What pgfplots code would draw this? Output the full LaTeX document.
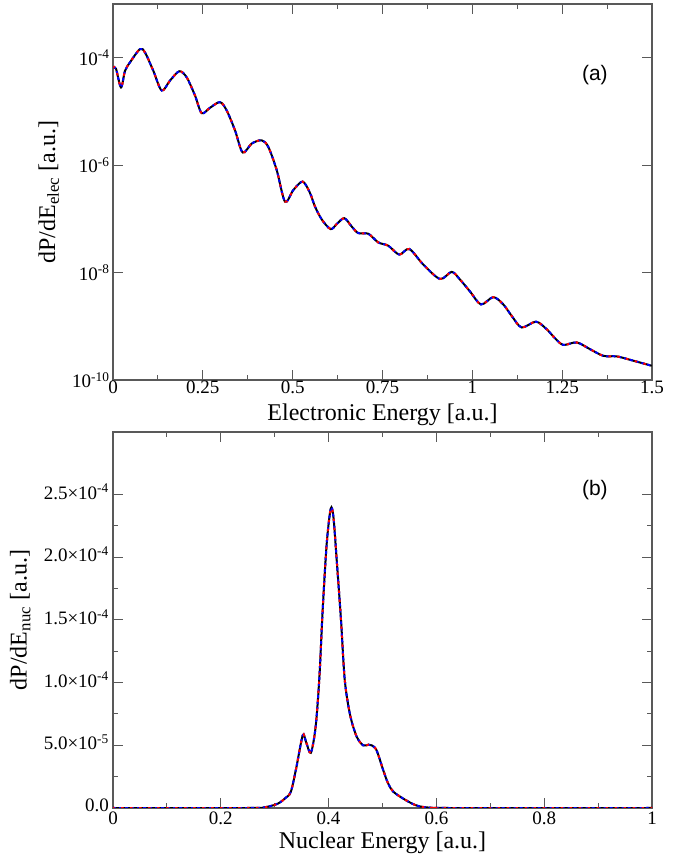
\documentclass[border=0pt]{standalone}
\usepackage{fontspec}
\setmainfont{Liberation Serif}
\newfontfamily\helv{Liberation Sans}
\usepackage{pgfplots}
\usepackage{pgfplotstable}
\pgfplotsset{compat=1.18}

\pgfplotstableread{
x y
0.0008 6.6e-5
0.0083 6.25e-5
0.0223 2.8e-5
0.0334 5.7e-5
0.0473 8.2e-5
0.0751 1.45e-4
0.0891 1.25e-4
0.1122 5.7e-5
0.1355 2.45e-5
0.1586 3.75e-5
0.1845 5.6e-5
0.2051 4.3e-5
0.2282 1.98e-5
0.2468 9.3e-6
0.2699 1.17e-5
0.2978 1.49e-5
0.3164 1.04e-5
0.3395 4.45e-6
0.3609 1.72e-6
0.3860 2.52e-6
0.4138 2.9e-6
0.4322 2.18e-6
0.4556 8.1e-7
0.4787 2.09e-7
0.5018 3.44e-7
0.5279 4.94e-7
0.5482 3.03e-7
0.5622 1.69e-7
0.5816 9.6e-8
0.6058 6.44e-8
0.6234 8.1e-8
0.6437 1.03e-7
0.6643 7.2e-8
0.6826 5.43e-8
0.7105 5.28e-8
0.7383 3.64e-8
0.7661 3.16e-8
0.7967 2.16e-8
0.8246 2.75e-8
0.8635 1.41e-8
0.9100 7.6e-9
0.9426 1.03e-8
0.9657 7.4e-9
0.9935 4.45e-9
1.0241 2.55e-9
1.0583 3.49e-9
1.0862 2.55e-9
1.1104 1.53e-9
1.1374 9.5e-10
1.1772 1.22e-9
1.2069 8.8e-10
1.2300 6.0e-10
1.2532 4.5e-10
1.2905 5.0e-10
1.3275 3.75e-10
1.3645 2.82e-10
1.4018 2.75e-10
1.4388 2.38e-10
1.4992 1.84e-10
}\elec

\pgfplotstableread{
x y
0.000 0
0.250 0
0.280 0.5e-6
0.300 2.5e-6
0.310 4.5e-6
0.320 8e-6
0.330 1.3e-5
0.340 3.2e-5
0.352 5.8e-5
0.358 5.3e-5
0.367 4.4e-5
0.376 6.5e-5
0.383 1.05e-4
0.389 1.58e-4
0.3965 2.11e-4
0.404 2.39e-4
0.409 2.32e-4
0.415 1.98e-4
0.423 1.50e-4
0.430 1.02e-4
0.440 7.4e-5
0.452 5.7e-5
0.464 5.0e-5
0.474 5.05e-5
0.480 5.0e-5
0.489 4.6e-5
0.5015 3.0e-5
0.510 2.0e-5
0.520 1.3e-5
0.545 5.8e-6
0.566 1.6e-6
0.590 2e-7
0.620 0
1.000 0
}\nuc

\pgfplotsset{
  myax/.style={
    scale only axis, width=539pt, height=376pt,
    axis line style={draw=black!65, line width=1.3pt},
    every tick/.style={draw=black!65, line width=1pt},
    tick align=inside,
    major tick length=10pt, minor tick length=5pt,
    tick label style={font=\fontsize{19}{21}\selectfont},
    xticklabel style={inner sep=1pt},
    every axis x label/.style={at={(axis description cs:0.5,-0.092)}, anchor=center, font=\fontsize{24}{26}\selectfont},
  },
  cblack/.style={black, line width=2pt, smooth, tension=0.5},
  cblue/.style={blue, line width=2pt, smooth, tension=0.5, dash pattern=on 3pt off 3pt},
  cred/.style={red, line width=2pt, smooth, tension=0.5, dash pattern=on 2.5pt off 6.5pt, dash phase=1pt},
}

\begin{document}
\begin{tikzpicture}
\path[use as bounding box] (0,0) rectangle (685pt,858pt);

\begin{axis}[myax,
  at={(113pt,478pt)}, anchor=south west,
  xmin=0, xmax=1.5, ymode=log, ymin=1e-10, ymax=1e-3,
  xtick={0,0.25,0.5,0.75,1,1.25,1.5},
  xticklabels={0,0.25,0.5,0.75,1,1.25,1.5},
  minor x tick num=1,
  ytick={1e-10,1e-8,1e-6,1e-4},
  yticklabels={10\textsuperscript{-10},10\textsuperscript{-8},10\textsuperscript{-6},10\textsuperscript{-4}},
  yminorticks=false,
  xlabel={Electronic Energy [a.u.]},
  ylabel={dP/dE\textsubscript{elec} [a.u.]},
  every axis y label/.style={at={(axis description cs:-0.119,0.5)}, rotate=90, anchor=center, font=\fontsize{24}{26}\selectfont},
]
\addplot[cblack] table[x=x,y=y] {\elec};
\addplot[cblue] table[x=x,y=y] {\elec};
\addplot[cred] table[x=x,y=y] {\elec};
\node[font=\helv\fontsize{21}{24}\selectfont] at (axis description cs:0.894,0.81) {(a)};
\end{axis}

\begin{axis}[myax,
  at={(113pt,50pt)}, anchor=south west,
  xmin=0, xmax=1, ymin=0, ymax=3e-4,
  xtick={0,0.2,0.4,0.6,0.8,1},
  xticklabels={0,0.2,0.4,0.6,0.8,1},
  xticklabel style={yshift=-3pt},
  minor x tick num=1,
  scaled y ticks=false,
  ytick={0,5e-5,1e-4,1.5e-4,2e-4,2.5e-4},
  yticklabels={0.0,5.0×10\textsuperscript{-5},1.0×10\textsuperscript{-4},1.5×10\textsuperscript{-4},2.0×10\textsuperscript{-4},2.5×10\textsuperscript{-4}},
  yticklabel style={inner sep=1pt, xshift=-3pt, yshift=3pt},
  minor y tick num=1,
  xlabel={Nuclear Energy [a.u.]},
  ylabel={dP/dE\textsubscript{nuc} [a.u.]},
  every axis y label/.style={at={(axis description cs:-0.172,0.5)}, rotate=90, anchor=center, font=\fontsize{24}{26}\selectfont},
]
\addplot[cblack] table[x=x,y=y] {\nuc};
\addplot[cblue] table[x=x,y=y] {\nuc};
\addplot[cred] table[x=x,y=y] {\nuc};
\node[font=\helv\fontsize{21}{24}\selectfont] at (axis description cs:0.894,0.846) {(b)};
\end{axis}
\end{tikzpicture}
\end{document}
